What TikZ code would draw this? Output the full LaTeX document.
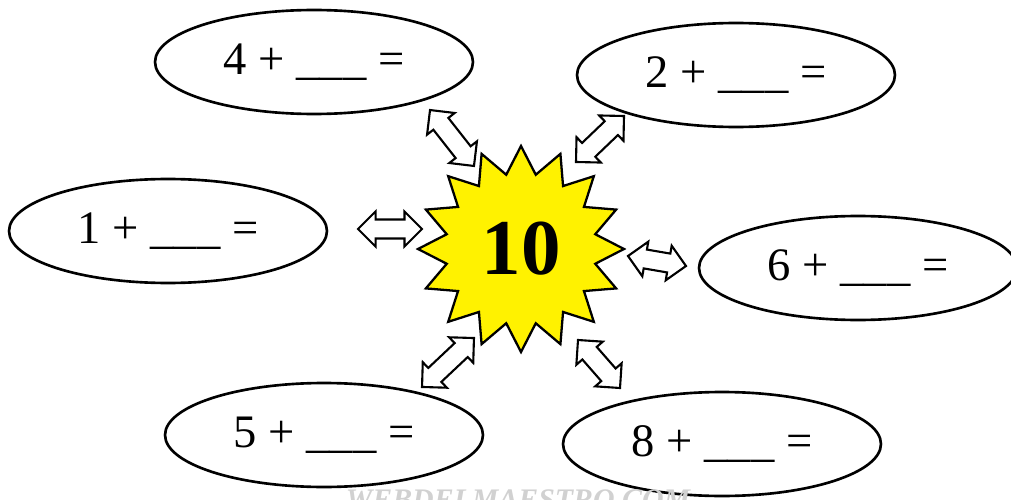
\documentclass[tikz,border=0pt]{standalone}
\usepackage{fontspec}
\setmainfont{Liberation Serif}
\usetikzlibrary{shapes.geometric,shapes.arrows,calc}

\begin{document}
\begin{tikzpicture}[x=0.02cm,y=-0.02cm,
    sum/.style={draw,line width=1.5pt,ellipse,minimum width=6.36cm,minimum height=2.08cm,
      inner sep=0pt,font=\fontsize{26.5}{30}\selectfont},
    twoway/.style={draw,line width=1.2pt,fill=white,double arrow,double arrow tip angle=90,
      double arrow head extend=0.16cm,inner xsep=0pt,inner ysep=0.17cm}]
  \useasboundingbox (0,0) rectangle (1011,500);
  \clip (0,0) rectangle (1011,500);

  % the number in the middle
  \node[star,star points=16,star point ratio=1.36,minimum size=4.12cm,draw,line width=1.3pt,
    fill=yellow,inner sep=0pt,font=\fontsize{45}{50}\selectfont\bfseries] (ten) at (521,249) {10};

  % the six sums
  \node[sum] (e4) at (314,62) {4 + \_\_\_ =};
  \node[sum] (e2) at (736,75) {2 + \_\_\_ =};
  \node[sum] (e1) at (168,231) {1 + \_\_\_ =};
  \node[sum] (e6) at (858,268) {6 + \_\_\_ =};
  \node[sum] (e5) at (324,435) {5 + \_\_\_ =};
  \node[sum] (e8) at (722,444) {8 + \_\_\_ =};

  % ends of the two-way arrows
  \coordinate (a4) at (430,110); \coordinate (b4) at (474,166);
  \coordinate (a2) at (576,162); \coordinate (b2) at (624,116);
  \coordinate (a1) at (358,229); \coordinate (b1) at (422,229);
  \coordinate (a6) at (628,256); \coordinate (b6) at (686,266);
  \coordinate (a5) at (474,338); \coordinate (b5) at (422,387);
  \coordinate (a8) at (578,340); \coordinate (b8) at (620,388);

  \foreach \u/\v in {a4/b4,a2/b2,a1/b1,a6/b6,a5/b5,a8/b8}
    \path let \p1=($(\v)-(\u)$), \n1={atan2(\y1,\x1)}, \n2={veclen(\x1,\y1)} in
      node[twoway,rotate=\n1,minimum height=\n2] at ($(\u)!0.5!(\v)$) {};

  % watermark, cut by the lower edge
  \node[anchor=base,text=black!18,font=\fontsize{17}{20}\selectfont\itshape\bfseries] (mark)
    at (518,509) {WEBDELMAESTRO.COM};
\end{tikzpicture}
\end{document}
